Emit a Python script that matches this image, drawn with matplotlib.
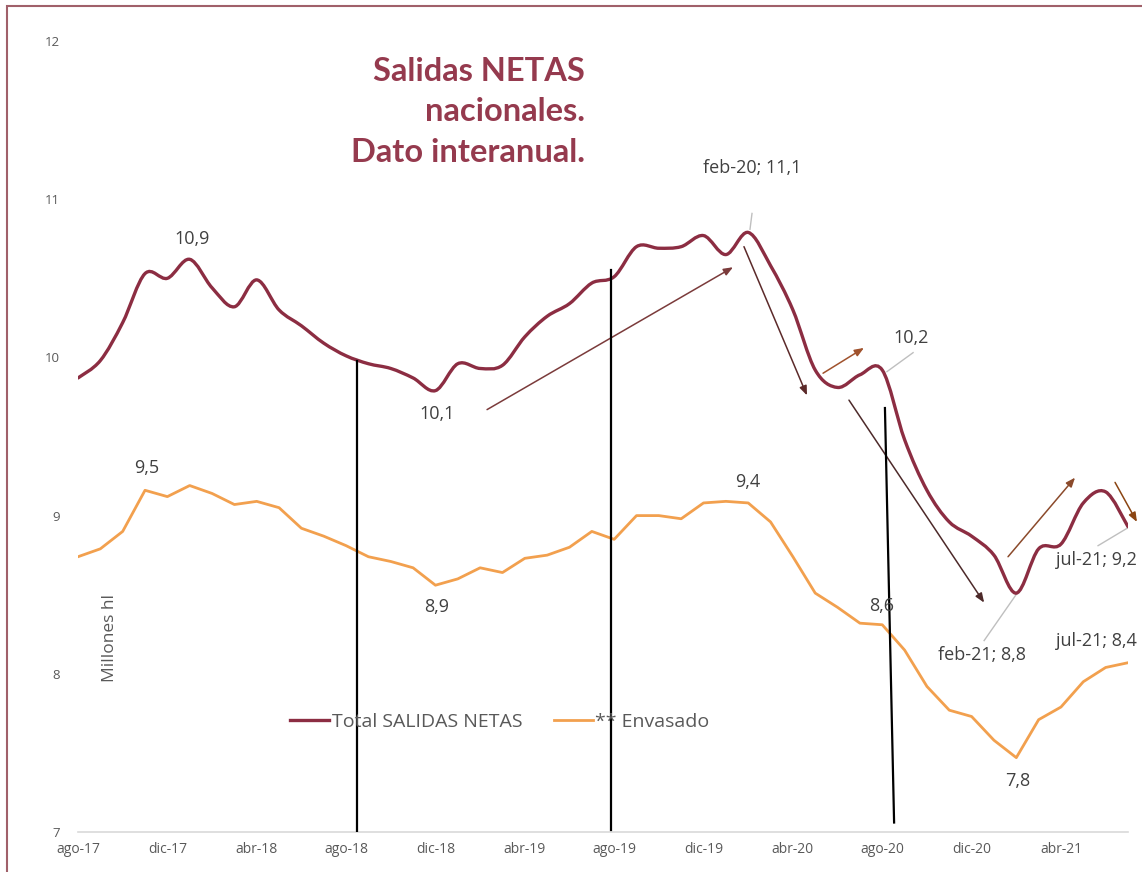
import numpy as np
import matplotlib.pyplot as plt
from matplotlib.path import Path
from matplotlib.patches import PathPatch, Rectangle
from matplotlib.lines import Line2D

####### DATA #######
months = ["ago-17", "sep-17", "oct-17", "nov-17", "dic-17", "ene-18", "feb-18", "mar-18",
          "abr-18", "may-18", "jun-18", "jul-18", "ago-18", "sep-18", "oct-18", "nov-18",
          "dic-18", "ene-19", "feb-19", "mar-19", "abr-19", "may-19", "jun-19", "jul-19",
          "ago-19", "sep-19", "oct-19", "nov-19", "dic-19", "ene-20", "feb-20", "mar-20",
          "abr-20", "may-20", "jun-20", "jul-20", "ago-20", "sep-20", "oct-20", "nov-20",
          "dic-20", "ene-21", "feb-21", "mar-21", "abr-21", "may-21", "jun-21", "jul-21"]

total_salidas = [9.87, 9.98, 10.22, 10.53, 10.50, 10.62, 10.44, 10.32, 10.49, 10.30,
                 10.20, 10.09, 10.01, 9.96, 9.93, 9.87, 9.79, 9.96, 9.93, 9.95,
                 10.13, 10.26, 10.34, 10.47, 10.51, 10.70, 10.69, 10.70, 10.77, 10.65,
                 10.79, 10.58, 10.30, 9.92, 9.81, 9.89, 9.92, 9.48, 9.16, 8.96,
                 8.87, 8.75, 8.51, 8.79, 8.82, 9.08, 9.15, 8.93]

envasado = [8.74, 8.79, 8.90, 9.16, 9.12, 9.19, 9.14, 9.07, 9.09, 9.05,
            8.92, 8.87, 8.81, 8.74, 8.71, 8.67, 8.56, 8.60, 8.67, 8.64,
            8.73, 8.75, 8.80, 8.90, 8.85, 9.00, 9.00, 8.98, 9.08, 9.09,
            9.08, 8.96, 8.74, 8.51, 8.42, 8.32, 8.31, 8.15, 7.92, 7.77,
            7.73, 7.58, 7.47, 7.71, 7.79, 7.95, 8.04, 8.07]

y_ticks = [7, 8, 9, 10, 11, 12]

# data labels (text, x index, y value)
labels = [("10,9", 5.10, 10.75), ("10,1", 16.07, 9.64), ("9,5", 3.09, 9.30),
          ("8,9", 16.07, 8.42), ("feb-20; 11,1", 30.17, 11.20), ("10,2", 37.29, 10.12),
          ("9,4", 29.99, 9.21), ("8,6", 35.99, 8.43), ("feb-21; 8,8", 40.47, 8.12),
          ("jul-21; 9,2", 45.57, 8.72), ("jul-21; 8,4", 45.57, 8.21), ("7,8", 42.08, 7.32)]

RED = "#8c2d42"
ORANGE = "#f2a04e"
TXT = "#404040"
GREY = "#595959"


def smooth_path(xs, ys):
    # excel style smoothed line, bezier through every point
    pts = np.column_stack([xs, ys])
    n = len(pts)
    verts = [pts[0]]
    codes = [Path.MOVETO]
    for i in range(n - 1):
        p0 = pts[max(i - 1, 0)]
        p1 = pts[i]
        p2 = pts[i + 1]
        p3 = pts[min(i + 2, n - 1)]
        c1 = p1 + (p2 - p0) / 6.0
        c2 = p2 - (p3 - p1) / 6.0
        verts += [c1, c2, p2]
        codes += [Path.CURVE4] * 3
    return Path(verts, codes)


####### PLOT #######
plt.rcParams['font.family'] = ['Open Sans', 'DejaVu Sans']
fig = plt.figure(figsize=(11.42, 8.72), dpi=100)
ax = fig.add_axes([78 / 1142, 40 / 872, 1050 / 1142, 791 / 872])

x = np.arange(len(months))
ax.add_patch(PathPatch(smooth_path(x, total_salidas), fill=False, ec=RED, lw=2.4,
                       capstyle='round', zorder=3))
ax.plot(x, envasado, color=ORANGE, lw=2.0, zorder=3)

ax.set_xlim(0, len(months) - 1)
ax.set_ylim(7, 12)
ax.set_yticks(y_ticks)
ax.set_xticks(x[::4])
ax.set_xticklabels(months[::4])
ax.tick_params(axis='y', length=0, pad=13, labelsize=9.5, labelcolor=GREY)
ax.tick_params(axis='x', length=0, pad=7, labelsize=10, labelcolor=GREY)
for s in ["top", "right", "left"]:
    ax.spines[s].set_visible(False)
ax.spines["bottom"].set_color("#d9d9d9")
ax.spines["bottom"].set_linewidth(1.2)

fig.text(110 / 1142, 1 - 638 / 872, "Millones hl", rotation=90, ha='center', va='center',
         fontsize=12.5, color=GREY)

# hand drawn vertical separators
for (x1, y1), (x2, y2) in [((12.49, 9.98), (12.49, 7.0)),
                           ((23.86, 10.55), (23.86, 7.01)),
                           ((36.12, 9.68), (36.53, 7.06))]:
    ax.plot([x1, x2], [y1, y2], color="black", lw=1.6, zorder=4)

# hand drawn arrows
arrows = [((18.31, 9.67), (29.32, 10.57), "#7b3b3b"),
          ((29.81, 10.70), (32.63, 9.76), "#5c2a2a"),
          ((33.35, 9.90), (35.18, 10.06), "#a0522d"),
          ((34.51, 9.73), (40.56, 8.45), "#4d2a2a"),
          ((41.63, 8.74), (44.63, 9.24), "#8b4a2b"),
          ((46.42, 9.21), (47.40, 8.96), "#8b4513")]
for start, end, col in arrows:
    ax.annotate("", xy=end, xytext=start, annotation_clip=False,
                arrowprops=dict(arrowstyle="-|>,head_length=0.55,head_width=0.22",
                                color=col, lw=1.1, shrinkA=0, shrinkB=0))

# leader lines
for (x1, y1), (x2, y2) in [((30.17, 10.91), (30.08, 10.81)),
                           ((36.21, 9.91), (37.38, 10.03)),
                           ((41.99, 8.50), (40.56, 8.21)),
                           ((46.96, 8.92), (45.66, 8.81))]:
    ax.plot([x1, x2], [y1, y2], color="#bfbfbf", lw=1.0, zorder=2)

for txt, lx, ly in labels:
    ax.text(lx, ly, txt, ha='center', va='center', fontsize=13, color=TXT,
            clip_on=False, zorder=5)

# title
fig.text(585 / 1142, 1 - 57 / 872, "Salidas NETAS\nnacionales.\nDato interanual.",
         ha='right', va='top', fontsize=23.5, fontweight='bold', color="#953a4e",
         linespacing=1.47, family=['Lato', 'DejaVu Sans'])

# legend
handles = [Line2D([], [], color=RED, lw=2.4), Line2D([], [], color=ORANGE, lw=2.0)]
fig.legend(handles, ["Total SALIDAS NETAS", "** Envasado"], loc='center',
           bbox_to_anchor=(500 / 1142, 1 - 722 / 872), ncol=2, frameon=False,
           fontsize=14, labelcolor=GREY, handlelength=2.0, handletextpad=0.15,
           columnspacing=1.6)

# outer border
fig.add_artist(Rectangle((7 / 1142, -0.1), 1.2, 1.1 - 6 / 872, transform=fig.transFigure,
                         fill=False, ec="#a0606a", lw=1.5))

fig.savefig("out.png", dpi=100)
